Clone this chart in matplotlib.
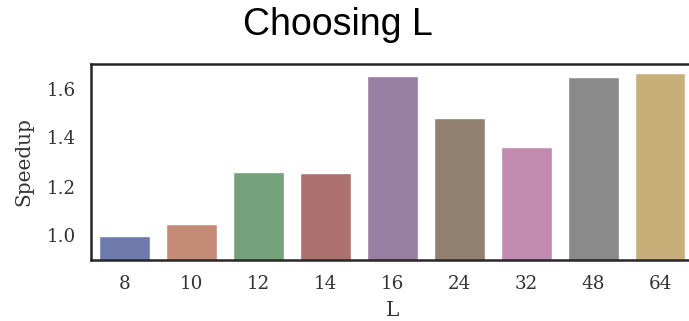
import matplotlib
matplotlib.use("Agg")
import matplotlib.pyplot as plt
import seaborn as sns
import numpy as np

L_values = ["8", "10", "12", "14", "16", "24", "32", "48", "64"]
speedup = [0.997, 1.045, 1.258, 1.254, 1.652, 1.478, 1.360, 1.645, 1.662]

bar_colors = ["#6d7aab", "#c48c76", "#75a27a", "#ac716c", "#977ea2",
              "#928070", "#c28ab0", "#8a8a8a", "#c7af79"]

sns.set_style("white")
plt.rcParams['font.family'] = ['DejaVu Serif']

fig = plt.figure(figsize=(6.89, 3.21), dpi=100)
ax = fig.add_axes([91/689, 61/321, (693.5-91)/689, 196/321])
x = np.arange(len(L_values))
ax.bar(x, speedup, width=0.76, color=bar_colors)
ax.set_xticks(x)
ax.set_xticklabels(L_values)
ax.set_xlim(-0.5, len(L_values) - 0.5)
ax.set_ylim(0.9, 1.7)
ax.set_yticks([1.0, 1.2, 1.4, 1.6])
ax.tick_params(labelsize=13.2, colors='#333333', length=0, pad=11)
ax.set_xlabel("L", fontsize=14.4, color='#333333')
ax.set_ylabel("Speedup", fontsize=14.4, color='#333333')
ax.xaxis.set_label_coords(0.5, -(301 - 260) / 196)
ax.yaxis.set_label_coords((33 - 91) / 602.5, 0.5)
for s in ax.spines.values():
    s.set_color('#262626')
    s.set_linewidth(1.8)

fig.text(338/689, 1 - 25/321, "Choosing L", ha='center', va='center',
         fontsize=27, family='Liberation Sans', color='black')

fig.savefig("out.png", dpi=100)
